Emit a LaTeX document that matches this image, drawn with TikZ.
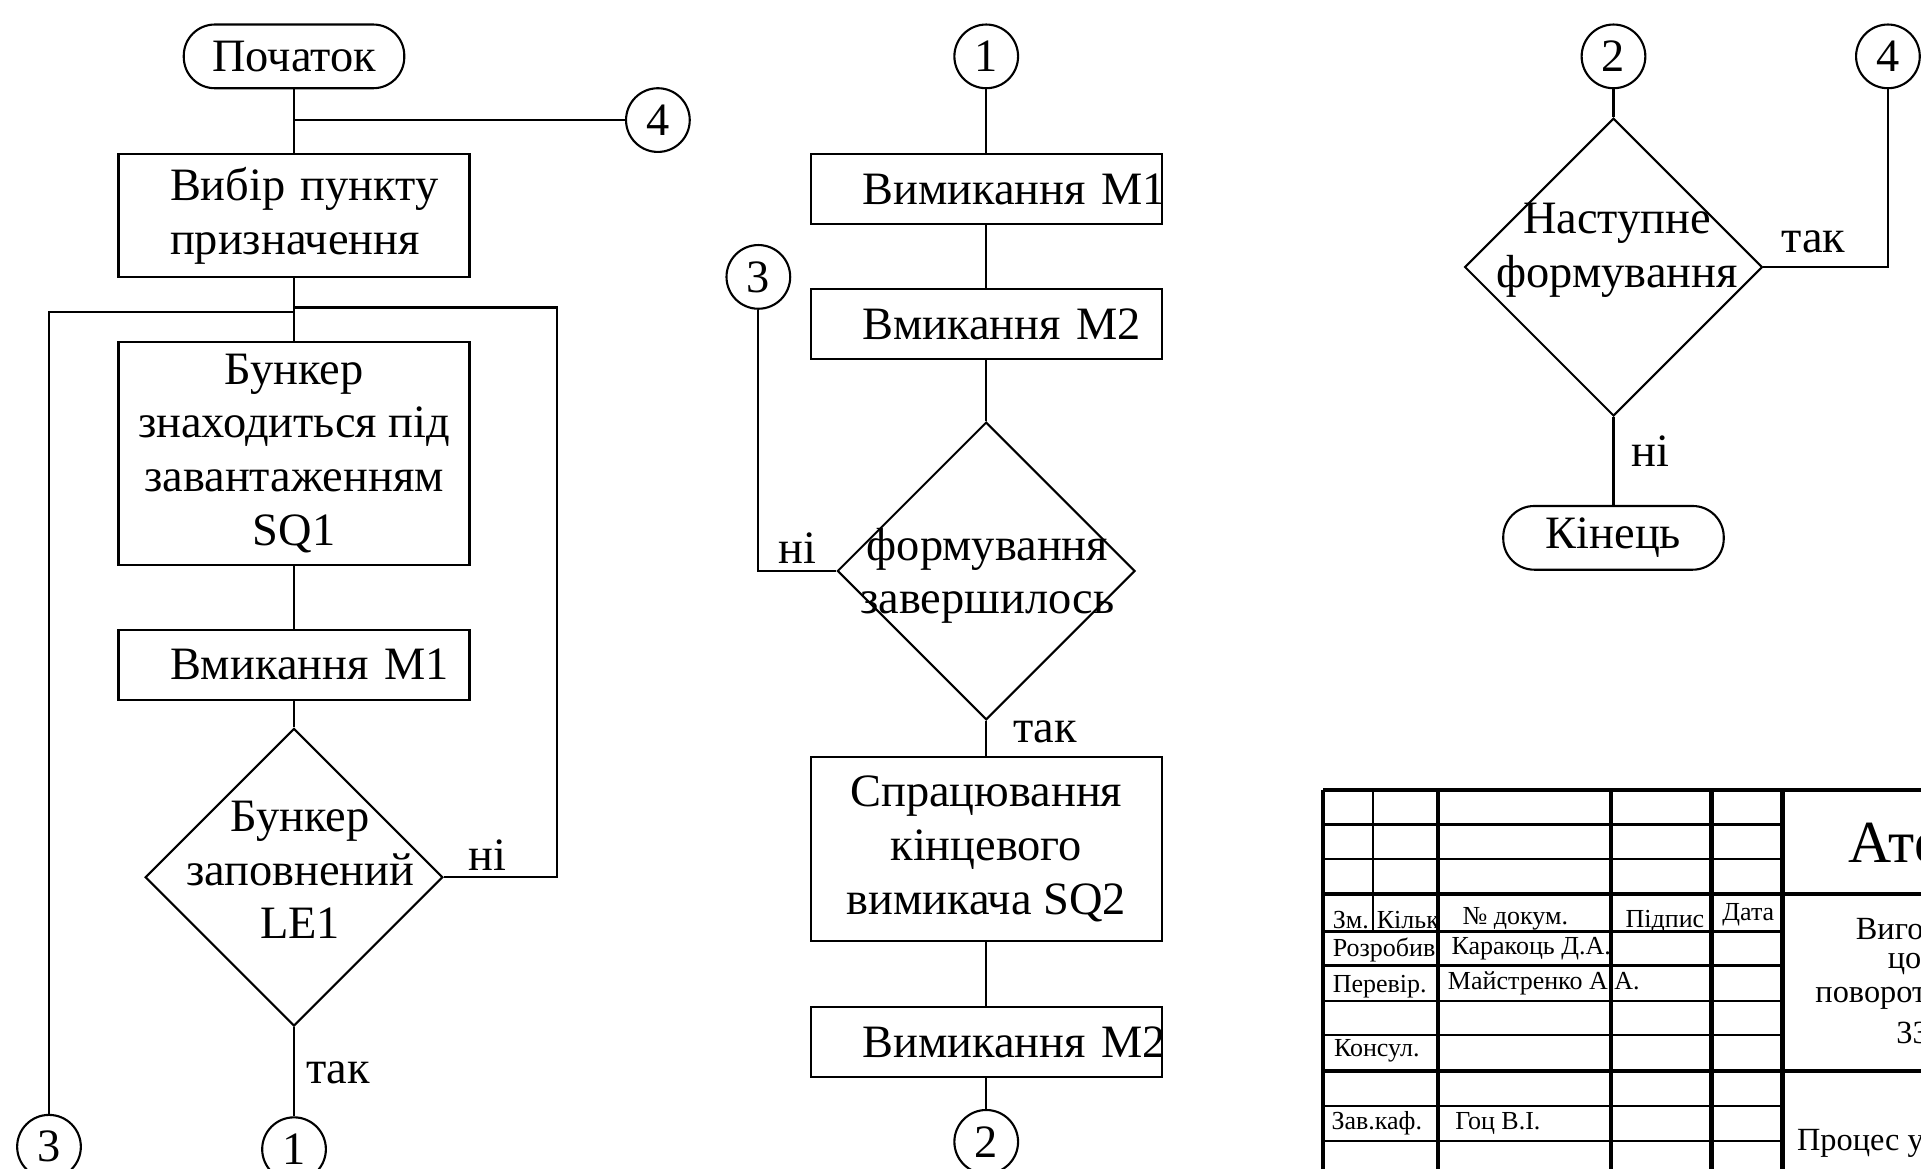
\documentclass[tikz,border=0pt]{standalone}
\usepackage{fontspec}
\setmainfont{Liberation Serif}
\usetikzlibrary{shapes.geometric}

\begin{document}
\begin{tikzpicture}[x=0.12251mm, y=-0.12251mm, line width=0.6pt,
  every node/.style={font=\fontsize{13.2}{15.3}\selectfont},
  term/.style={draw, rectangle, rounded corners=3.1mm, minimum width=2.205cm, minimum height=0.637cm, inner sep=0pt},
  proc/.style={draw, rectangle, minimum width=3.51cm, minimum height=0.698cm, inner sep=0pt, align=center},
  procl/.style={proc, text width=2.48cm, inner xsep=0.515cm, align=left},
  decision/.style={draw, diamond, minimum width=2.977cm, minimum height=2.977cm, inner sep=0pt},
  conn/.style={draw, circle, minimum size=0.637cm, inner sep=0pt},
  lbl/.style={inner sep=0pt},
  tb/.style={font=\fontsize{7.4}{8.5}\selectfont, inner sep=0pt, anchor=west},
  tbr/.style={font=\fontsize{9.2}{10.5}\selectfont, inner sep=0pt, anchor=west},
  tbthick/.style={line width=1.2pt},
  tbmid/.style={line width=0.9pt}]
  \useasboundingbox (0,0) rectangle (1568,954);
  \clip (0,0) rectangle (1568,954);

  % first column
  \node[term] (start) at (240,46) {Початок};
  \coordinate (j4) at (240,98);
  \node[conn] (c4a) at (537,98) {4};
  \node[procl, minimum height=1.225cm] (choose) at (240,176) {Вибір~пункту\\призначення};
  \coordinate (splitl) at (240,255);
  \coordinate (splitr) at (240,251);
  \coordinate (backr) at (455,251);
  \node[proc, minimum height=2.23cm] (bunker) at (240,370) {Бункер\\знаходиться під\\завантаженням\\SQ1};
  \node[procl] (m1on) at (240,542.5) {Вмикання~М1};
  \node[decision] (full) at (240,716) {};
  \node[align=center] (fulltxt) at (245,710) {Бункер\\заповнений\\LE1};
  \node[lbl] (no1) at (398,698) {ні};
  \node[lbl] (yes1) at (276,876) {так};
  \node[conn] (c1a) at (240,938) {1};
  \node[conn] (c3a) at (40,936) {3};

  \draw (start) -- (choose);
  \draw (j4) -- (c4a);
  \draw (choose) -- (bunker);
  \draw (splitl) -| (c3a);
  \draw (bunker) -- (m1on);
  \draw (m1on) -- (full);
  \draw (full.east) -| (backr) -- (splitr);
  \draw (full) -- (c1a);

  % second column
  \node[conn] (c1b) at (805,46) {1};
  \node[procl] (m1off) at (805,154.5) {Вимикання~М1};
  \node[procl] (m2on) at (805,264.5) {Вмикання~М2};
  \node[conn] (c3b) at (619,226) {3};
  \node[decision] (done) at (805,466) {};
  \node[align=center] (donetxt) at (806,470) {формування\\завершилось};
  \node[lbl] (no2) at (651,447) {ні};
  \node[lbl] (yes2) at (853,597) {так};
  \node[proc, minimum height=1.838cm] (sq2) at (805,693) {Спрацювання\\кінцевого\\вимикача SQ2};
  \node[procl] (m2off) at (805,850.5) {Вимикання~М2};
  \node[conn] (c2a) at (805,932) {2};

  \draw (c1b) -- (m1off);
  \draw (m1off) -- (m2on);
  \draw (m2on) -- (done);
  \draw (c3b) |- (done.west);
  \draw (done) -- (sq2);
  \draw (sq2) -- (m2off);
  \draw (m2off) -- (c2a);

  % third column
  \node[conn] (c2b) at (1317,46) {2};
  \node[conn] (c4b) at (1541,46) {4};
  \node[decision] (next) at (1317,218) {};
  \node[align=center] (nexttxt) at (1320,204) {Наступне\\формування};
  \node[lbl] (yes3) at (1480,197) {так};
  \node[lbl] (no3) at (1347,368) {ні};
  \node[term] (finish) at (1317,439) {Кінець};

  \draw (c2b) -- (next);
  \draw (next.east) -| (c4b);
  \draw (next) -- (finish);

  % title block
  \draw[tbthick] (1080,645) -- (1568,645);
  \draw[tbthick] (1080,730) -- (1568,730);
  \draw[tbthick] (1080,874) -- (1568,874);
  \draw[tbthick] (1080,645) -- (1080,954);
  \draw[tbthick] (1174,645) -- (1174,954);
  \draw[tbthick] (1315,645) -- (1315,954);
  \draw[tbthick] (1397,645) -- (1397,954);
  \draw[tbthick] (1455,645) -- (1455,954);
  \draw (1121,645) -- (1121,760);
  \foreach \y in {673,701,817,845,903,931} \draw (1080,\y) -- (1455,\y);
  \draw[tbmid] (1080,760) -- (1455,760);
  \draw[tbmid] (1080,788) -- (1455,788);

  \node[tb] (hzm) at (1087,751) {Зм.};
  \node[tb] (hkil) at (1123,751) {Кільк};
  \node[tb] (hdoc) at (1193,750) {№ докум.};
  \node[tb] (hsig) at (1326,752) {Підпис};
  \node[tb] (hdate) at (1405,747) {Дата};
  \node[tb] (rdev) at (1087,775) {Розробив};
  \node[tb] (ndev) at (1184,774) {Каракоць Д.А.};
  \node[tb] (rchk) at (1087,805) {Перевір.};
  \node[tb] (nchk) at (1181,803) {Майстренко А.А.};
  \node[tb] (rcon) at (1088,858) {Консул.};
  \node[tb] (rhead) at (1086,917) {Зав.каф.};
  \node[tb] (nhead) at (1187,917) {Гоц В.І.};

  \node[anchor=west, inner sep=0pt, font=\fontsize{17}{20}\selectfont] (tbtitle) at (1508,688) {Ате};
  \node[tbr] (tbname1) at (1514,758) {Виго};
  \node[tbr] (tbname2) at (1540,787) {цо};
  \node[tbr] (tbname3) at (1481,815) {поворот};
  \node[tbr] (tbname4) at (1547,843) {33};
  \node[tbr] (tbsheet) at (1466,933) {Процес у};
\end{tikzpicture}
\end{document}
